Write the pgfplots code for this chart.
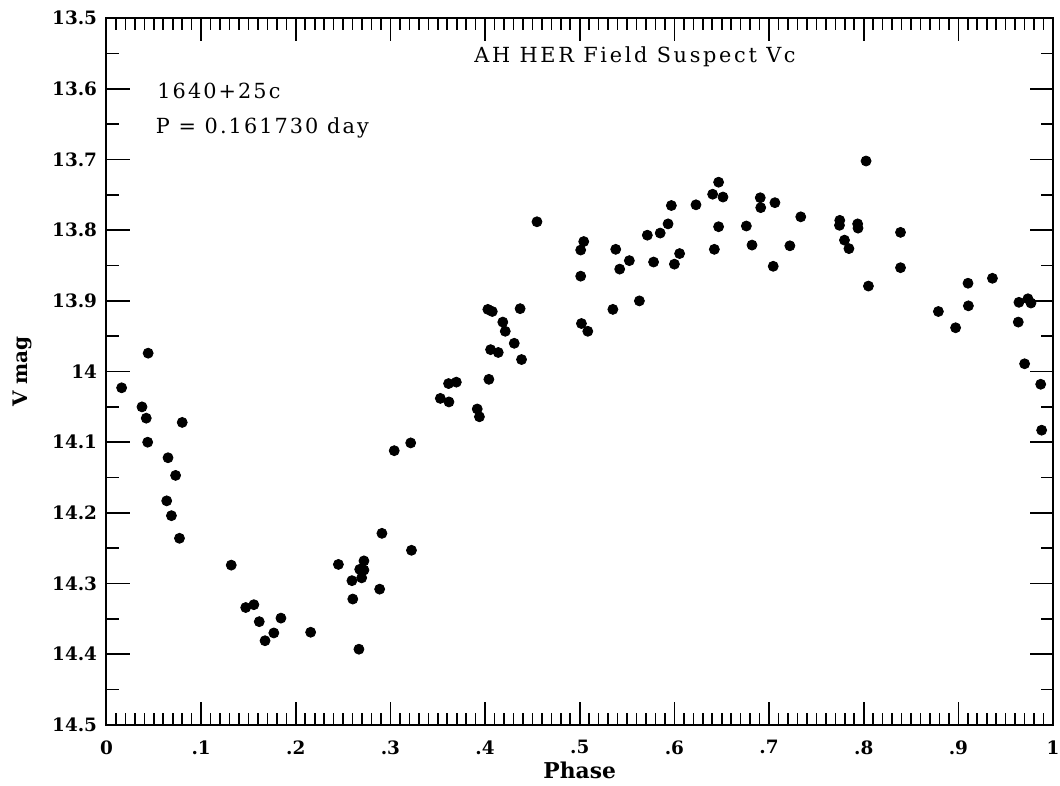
\documentclass[border=0pt]{standalone}
\usepackage{fontspec}
\setmainfont{DejaVu Serif}
\newfontfamily\spacedA[LetterSpace=10]{DejaVu Serif}
\newfontfamily\spacedB[LetterSpace=13]{DejaVu Serif}
\usepackage{pgfplots}
\pgfplotsset{compat=1.18}
\begin{document}
\begin{tikzpicture}
\begin{axis}[
  at={(0,0)}, anchor=south west,
  scale only axis,
  width=473.25pt, height=353.25pt,
  xmin=0, xmax=1, ymin=13.5, ymax=14.5,
  y dir=reverse,
  axis line style={line width=1pt},
  xtick={0,0.1,0.2,0.3,0.4,0.5,0.6,0.7,0.8,0.9,1},
  xticklabels={0,.1,.2,.3,.4,.5,.6,.7,.8,.9,1},
  ytick={13.5,13.6,13.7,13.8,13.9,14,14.1,14.2,14.3,14.4,14.5},
  yticklabels={13.5,13.6,13.7,13.8,13.9,14,14.1,14.2,14.3,14.4,14.5},
  minor x tick num=9,
  minor y tick num=1,
  tick align=inside,
  major tick length=11.5pt,
  minor tick length=6pt,
  every tick/.style={black, line width=0.8pt},
  tick label style={font=\fontsize{9.2}{10}\selectfont\bfseries},
  xticklabel style={yshift=-4.3pt},
  yticklabel style={xshift=-1.2pt},
  xlabel={Phase},
  ylabel={V mag},
  xlabel style={font=\fontsize{10.9}{12}\selectfont\bfseries, at={(axis description cs:0.5,-0.0641)}, anchor=center},
  ylabel style={font=\fontsize{10}{12}\selectfont\bfseries, at={(axis description cs:-0.0893,0.5)}, anchor=center, rotate=0},
  clip=false,
]
\addplot[only marks, mark=*, mark size=2.5pt, black] table {
x y
0.016 14.023
0.044 13.974
0.0375 14.050
0.042 14.066
0.0435 14.100
0.080 14.072
0.065 14.122
0.073 14.147
0.0636 14.183
0.0686 14.204
0.0771 14.236
0.1318 14.274
0.1471 14.334
0.1557 14.330
0.1614 14.354
0.1675 14.381
0.1768 14.370
0.1843 14.349
0.2157 14.369
0.245 14.273
0.2593 14.296
0.2602 14.322
0.2667 14.393
0.272 14.268
0.2675 14.280
0.272 14.281
0.2696 14.292
0.2886 14.308
0.291 14.229
0.304 14.112
0.3214 14.101
0.3222 14.253
0.3527 14.038
0.3618 14.043
0.3614 14.017
0.3696 14.015
0.3917 14.053
0.394 14.064
0.404 14.011
0.4029 13.912
0.4076 13.915
0.437 13.911
0.4187 13.930
0.4213 13.943
0.4308 13.960
0.4058 13.969
0.4139 13.973
0.4385 13.983
0.4548 13.788
0.5042 13.816
0.501 13.828
0.501 13.865
0.5018 13.932
0.5085 13.943
0.538 13.827
0.5422 13.855
0.5524 13.843
0.535 13.912
0.563 13.900
0.5714 13.807
0.578 13.845
0.585 13.804
0.5933 13.791
0.5968 13.765
0.600 13.848
0.6055 13.833
0.6228 13.764
0.6404 13.749
0.6467 13.732
0.6513 13.753
0.6467 13.795
0.6422 13.827
0.676 13.794
0.682 13.821
0.6907 13.754
0.6912 13.768
0.7062 13.761
0.7044 13.851
0.722 13.822
0.7335 13.781
0.7747 13.786
0.7744 13.793
0.7797 13.814
0.7844 13.826
0.7936 13.791
0.794 13.797
0.8025 13.702
0.805 13.879
0.8389 13.803
0.8389 13.853
0.8789 13.915
0.8971 13.938
0.9102 13.875
0.9106 13.907
0.9360 13.868
0.964 13.902
0.9735 13.897
0.9767 13.903
0.9633 13.930
0.970 13.989
0.987 14.018
0.988 14.083
};
\end{axis}
\node[anchor=base west, inner sep=0pt, font=\fontsize{10.4}{12}\selectfont\spacedB] at (183.75pt,331.1pt) {AH HER Field Suspect Vc};
\node[anchor=base west, inner sep=0pt, font=\fontsize{10.4}{12}\selectfont\spacedA] at (25.25pt,313.35pt) {1640+25c};
\node[anchor=base west, inner sep=0pt, font=\fontsize{10.4}{12}\selectfont\spacedA] at (24.5pt,295.85pt) {P = 0.161730 day};
\pgfresetboundingbox
\path[use as bounding box] (-53.25pt,-30.15pt) rectangle (476.75pt,362.4pt);
\end{tikzpicture}
\end{document}
